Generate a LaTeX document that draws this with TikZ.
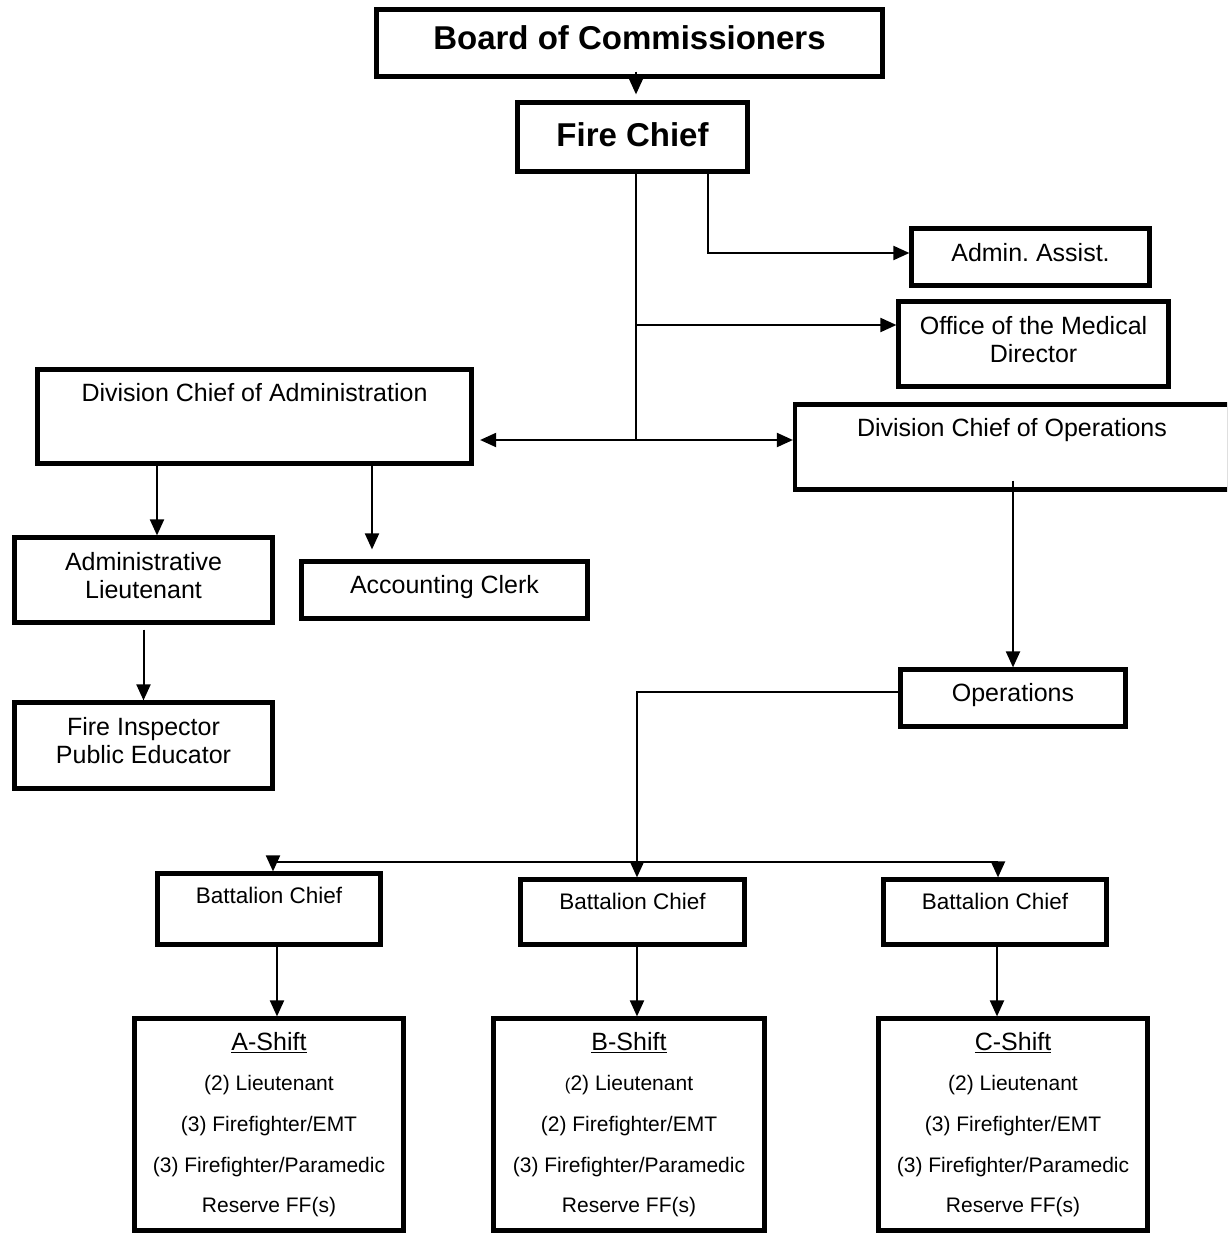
\documentclass[tikz,border=0pt]{standalone}
\usepackage{fontspec}
\setmainfont{Liberation Sans}
\usetikzlibrary{arrows.meta,calc}
\frenchspacing
\begin{document}
\begin{tikzpicture}[x=1pt,y=-1pt,
  box/.style={draw, line width=4.2pt, inner sep=0pt, rectangle},
  conn/.style={line width=2pt},
  arr/.style={conn, -{Triangle[length=16pt,width=14pt]}},
  txt/.style={inner sep=0pt, text depth=0pt, align=center},
  big/.style={txt, text height=23.6pt, font=\fontsize{33}{36}\selectfont\bfseries},
  norm/.style={txt, text height=17.9pt, font=\fontsize{25}{28.5}\selectfont},
  bc/.style={txt, text height=16.1pt, font=\fontsize{22.5}{26}\selectfont},
  lst/.style={txt, text height=15pt, font=\fontsize{21}{24}\selectfont},
  hdr/.style={txt, text height=17.9pt, font=\fontsize{25}{28}\selectfont},
]
\useasboundingbox (0,0) rectangle (1227,1233);
\clip (0,0) rectangle (1227,1233);
\fill[white] (0,0) rectangle (1227,1233);

% boxes
\node[box, minimum width=506, minimum height=67] (board) at (629.5,43) {};
\node[big] (boardT) at (629.5,38) {Board of Commissioners};
\node[box, minimum width=230, minimum height=69] (chief) at (632.5,137) {};
\node[big] (chiefT) at (632.5,135) {Fire Chief};
\node[box, minimum width=238, minimum height=57] (assist) at (1030.5,257) {};
\node[norm] (assistT) at (1030.5,253) {Admin. Assist.};
\node[box, minimum width=270, minimum height=85] (medical) at (1033.5,344) {};
\node[norm] (medicalT1) at (1033.5,326) {Office of the Medical};
\node[norm] (medicalT2) at (1033.5,354) {Director};
\node[box, minimum width=434, minimum height=94] (divadmin) at (254.5,416.5) {};
\node[norm] (divadminT) at (254.5,393) {Division Chief of Administration};
\node[box, minimum width=434, minimum height=85] (divops) at (1012,447) {};
\node[norm] (divopsT) at (1012,428) {Division Chief of Operations};
\node[box, minimum width=258, minimum height=85] (lt) at (143.5,580) {};
\node[norm] (ltT1) at (143.5,562) {Administrative};
\node[norm] (ltT2) at (143.5,590) {Lieutenant};
\node[box, minimum width=286, minimum height=57] (acct) at (444.5,590) {};
\node[norm] (acctT) at (444.5,585) {Accounting Clerk};
\node[box, minimum width=258, minimum height=86] (insp) at (143.5,745.5) {};
\node[norm] (inspT1) at (143.5,727) {Fire Inspector};
\node[norm] (inspT2) at (143.5,755) {Public Educator};
\node[box, minimum width=225, minimum height=57] (ops) at (1013,698) {};
\node[norm] (opsT) at (1013,693) {Operations};
\node[box, minimum width=223, minimum height=71] (bc1) at (269,909) {};
\node[bc] (bc1T) at (269,895) {Battalion Chief};
\node[box, minimum width=224, minimum height=65] (bc2) at (632.5,912) {};
\node[bc] (bc2T) at (632.5,901) {Battalion Chief};
\node[box, minimum width=223, minimum height=65] (bc3) at (995,912) {};
\node[bc] (bc3T) at (995,901) {Battalion Chief};
\node[box, minimum width=269, minimum height=212] (sa) at (269,1124.5) {};
\node[box, minimum width=271, minimum height=212] (sb) at (629,1124.5) {};
\node[box, minimum width=269, minimum height=212] (sc) at (1013,1124.5) {};

% shift texts
\node[hdr] (saH) at (269,1042) {\underline{A-Shift}};
\node[lst] (sa1) at (269,1083) {(2) Lieutenant};
\node[lst] (sa2) at (269,1124) {(3) Firefighter/EMT};
\node[lst] (sa3) at (269,1165) {(3) Firefighter/Paramedic};
\node[lst] (sa4) at (269,1205) {Reserve FF(s)};
\node[hdr] (sbH) at (629,1042) {\underline{B-Shift}};
\node[lst] (sb1) at (629,1083) {{\fontsize{17}{20}\selectfont(}2) Lieutenant};
\node[lst] (sb2) at (629,1124) {(2) Firefighter/EMT};
\node[lst] (sb3) at (629,1165) {(3) Firefighter/Paramedic};
\node[lst] (sb4) at (629,1205) {Reserve FF(s)};
\node[hdr] (scH) at (1013,1042) {\underline{C-Shift}};
\node[lst] (sc1) at (1013,1083) {(2) Lieutenant};
\node[lst] (sc2) at (1013,1124) {(3) Firefighter/EMT};
\node[lst] (sc3) at (1013,1165) {(3) Firefighter/Paramedic};
\node[lst] (sc4) at (1013,1205) {Reserve FF(s)};

% helper coordinates
\coordinate (j) at (636,440);
\coordinate (m) at (636,325);
\coordinate (a) at (708,253);
\coordinate (x1) at (157,0);
\coordinate (x2) at (372,0);
\coordinate (h) at (0,862);

% connectors
\draw[arr] ([xshift=6.5pt,yshift=7pt]board.south) -- ([xshift=3.5pt,yshift=6pt]chief.north);
\draw[conn] ([xshift=3.5pt]chief.south) -- (j);
\draw[arr] (j) -- ($(divadmin.east |- j)+(6.5,0)$);
\draw[arr] (j) -- (divops.west |- j);
\draw[arr] (m) -- (m -| medical.west);
\draw[arr] ([xshift=75.5pt]chief.south) |- (a -| assist.west);
\draw[arr] (divadmin.south -| x1) -- (lt.north -| x1);
\draw[arr] (divadmin.south -| x2) -- ($(acct.north -| x2)+(0,-10)$);
\draw[arr] ($(lt.south)+(0,5)$) -- (insp.north);
\draw[arr] ($(divops.south -| ops.north)+(0,-11)$) -- (ops.north);
\draw[arr] ($(ops.west)+(0,-6)$) -| ($(bc2.north)+(4.5,0)$);
\draw[arr] ($(bc3.north |- h)+(3,0)$) -- ($(bc3.north)+(3,0)$);
\draw[arr] ($(bc3.north |- h)+(3,0)$) -| ($(bc1.north)+(4,0)$);
\draw[arr] ($(bc1.south)+(8,0)$) -- ($(sa.north)+(8,0)$);
\draw[arr] ($(bc2.south)+(4.5,0)$) -- ($(sb.north)+(8,0)$);
\draw[arr] ($(bc3.south)+(2,0)$) -- ($(sc.north)+(-16,0)$);
\end{tikzpicture}
\end{document}
